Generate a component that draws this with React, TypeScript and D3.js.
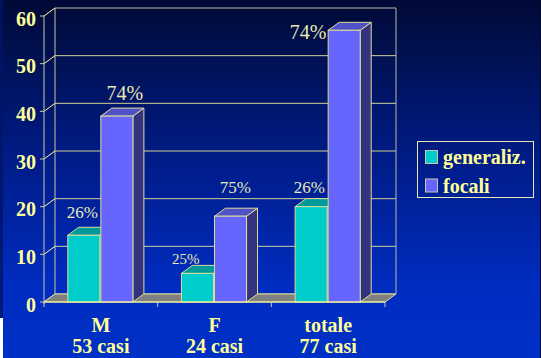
import React from 'react';
import * as d3 from 'd3';

const categories = ['M', 'F', 'totale'];
const subLabels = ['53 casi', '24 casi', '77 casi'];
const seriesNames = ['generaliz.', 'focali'];
const generaliz = [14, 6, 20];
const focali = [39, 18, 57];
const pctGeneraliz = ['26%', '25%', '26%'];
const pctFocali = ['74%', '75%', '74%'];
const yTicks = [0, 10, 20, 30, 40, 50, 60];

// label nudges (style only): [dx, dy] from top-front centre of bar, font size
const nudgeGen = [[-1.5, -17], [-11.7, -9.4], [-1.8, -13.7]];
const nudgeFoc = [[8, -16], [4.7, -23], [-36, 9]];
const sizeGen = [17, 15, 17];
const sizeFoc = [20, 17, 20];

const W = 541;
const H = 358;
const DX = 11;
const DY = 8;
const FONT = '"Liberation Serif", "Times New Roman", serif';
const YEL = '#ffff99';
const EDGE = '#dcdc96';

const fills = [
  { front: '#00cccc', top: '#009999', side: '#006666' },
  { front: '#6666ff', top: '#5252c8', side: '#333380' },
];

export default function App() {
  const x = d3.scaleBand<string>().domain(categories).range([44, 385]).padding(0);
  const xs = d3
    .scaleBand<string>()
    .domain(seriesNames)
    .range([0, x.bandwidth()])
    .paddingInner(0)
    .paddingOuter(0.72);
  const y = d3.scaleLinear().domain([0, 60]).range([302, 16]);
  const y0 = y(0);
  const xL = x.range()[0];
  const xR = x.range()[1];

  const seriesVals = [generaliz, focali];
  const seriesPct = [pctGeneraliz, pctFocali];
  const nudges = [nudgeGen, nudgeFoc];
  const sizes = [sizeGen, sizeFoc];

  const bars: React.ReactNode[] = [];
  const labels: React.ReactNode[] = [];
  categories.forEach((c, ci) => {
    seriesNames.forEach((s, si) => {
      const v = seriesVals[si][ci];
      const bx = (x(c) as number) + (xs(s) as number);
      const w = xs.bandwidth() - 1;
      const yv = y(v);
      const f = fills[si];
      bars.push(
        <g key={`${c}-${s}`}>
          <polygon
            points={`${bx + w},${yv} ${bx + w + DX},${yv - DY} ${bx + w + DX},${y0 - DY} ${bx + w},${y0}`}
            fill={f.side}
            stroke={EDGE}
            strokeWidth={1}
          />
          <polygon
            points={`${bx},${yv} ${bx + DX},${yv - DY} ${bx + w + DX},${yv - DY} ${bx + w},${yv}`}
            fill={f.top}
            stroke={EDGE}
            strokeWidth={1}
          />
          <rect x={bx} y={yv} width={w} height={y0 - yv} fill={f.front} stroke={EDGE} strokeWidth={1} />
        </g>
      );
      const [ndx, ndy] = nudges[si][ci];
      labels.push(
        <text
          key={`l-${c}-${s}`}
          x={bx + w / 2 + ndx}
          y={yv + ndy}
          textAnchor="middle"
          fontFamily={FONT}
          fontSize={sizes[si][ci]}
          fill="#e8e8b4"
        >
          {seriesPct[si][ci]}
        </text>
      );
    });
  });

  return (
    <svg
      width={W}
      height={H}
      viewBox={`0 0 ${W} ${H}`}
      style={{ position: 'absolute', left: 0, top: 0, display: 'block' }}
    >
      <defs>
        <linearGradient id="bg" x1="0" y1="0" x2="0" y2="1">
          <stop offset="0" stopColor="#000a36" />
          <stop offset="0.45" stopColor="#001c88" />
          <stop offset="0.8" stopColor="#002cc0" />
          <stop offset="1" stopColor="#0030c6" />
        </linearGradient>
      </defs>
      <rect x={0} y={0} width={W} height={H} fill="url(#bg)" />
      <rect x={0} y={0} width={3} height={318} fill="#001466" opacity={0.8} />
      <rect x={0} y={318} width={3} height={40} fill="#ffffff" />
      <line x1={540.5} y1={0} x2={540.5} y2={H} stroke="#000a30" strokeWidth={1} />

      {/* back wall gridlines */}
      {yTicks.map((t) => (
        <line
          key={`g${t}`}
          x1={xL + DX}
          x2={xR + DX}
          y1={y(t) - DY}
          y2={y(t) - DY}
          stroke={t === 60 ? '#b8b8a0' : '#d0d094'}
          strokeWidth={1}
        />
      ))}
      {/* back wall right edge and left edge */}
      <line x1={xR + DX} x2={xR + DX} y1={y(60) - DY} y2={y0 - DY} stroke="#b8b8a0" />
      <line x1={xL + DX} x2={xL + DX} y1={y(60) - DY} y2={y0 - DY} stroke="#c8c8a0" />
      {/* side wall diagonals */}
      {yTicks.map((t) => (
        <line key={`d${t}`} x1={xL} y1={y(t)} x2={xL + DX} y2={y(t) - DY} stroke={YEL} strokeWidth={1} />
      ))}
      {/* floor */}
      <polygon
        points={`${xL},${y0} ${xL + DX},${y0 - DY} ${xR + DX},${y0 - DY} ${xR},${y0}`}
        fill="#808080"
        stroke={EDGE}
        strokeWidth={1}
      />

      {bars}

      {/* front axes */}
      <line x1={xL} x2={xL} y1={y(60)} y2={y0 + 2} stroke="#c8c8b0" strokeWidth={1} />
      <line x1={xL} x2={xR} y1={y0} y2={y0} stroke={YEL} strokeWidth={1.2} />
      {[xL, ...categories.map((c) => (x(c) as number) + x.bandwidth())].map((px, i) => (
        <line key={`ct${i}`} x1={px} x2={px} y1={y0} y2={y0 + 5} stroke="#c8c8b0" />
      ))}
      {yTicks.map((t) => (
        <g key={`t${t}`}>
          <line x1={xL - 4} x2={xL} y1={y(t)} y2={y(t)} stroke="#c8c8b0" />
          <text
            x={36}
            y={y(t) + 9.5}
            textAnchor="end"
            fontFamily={FONT}
            fontWeight="bold"
            fontSize={20}
            fill={YEL}
          >
            {t}
          </text>
        </g>
      ))}

      {labels}

      {categories.map((c, i) => (
        <g key={`c${c}`}>
          <text
            x={(x(c) as number) + x.bandwidth() / 2}
            y={332}
            textAnchor="middle"
            fontFamily={FONT}
            fontWeight="bold"
            fontSize={20}
            fill={YEL}
          >
            {c}
          </text>
          <text
            x={(x(c) as number) + x.bandwidth() / 2}
            y={353}
            textAnchor="middle"
            fontFamily={FONT}
            fontWeight="bold"
            fontSize={20}
            fill={YEL}
          >
            {subLabels[i]}
          </text>
        </g>
      ))}

      {/* legend */}
      <rect x={417.5} y={141.5} width={116} height={56} fill="none" stroke="#e8e8b0" strokeWidth={1} />
      {seriesNames.map((s, i) => (
        <g key={`lg${s}`}>
          <rect
            x={425.5}
            y={150.5 + i * 28.5}
            width={12}
            height={13}
            fill={fills[i].front}
            stroke="#c8c8b0"
            strokeWidth={1}
          />
          <text
            x={443}
            y={164 + i * 28.5}
            fontFamily={FONT}
            fontWeight="bold"
            fontSize={20}
            fill={YEL}
          >
            {s}
          </text>
        </g>
      ))}
    </svg>
  );
}
